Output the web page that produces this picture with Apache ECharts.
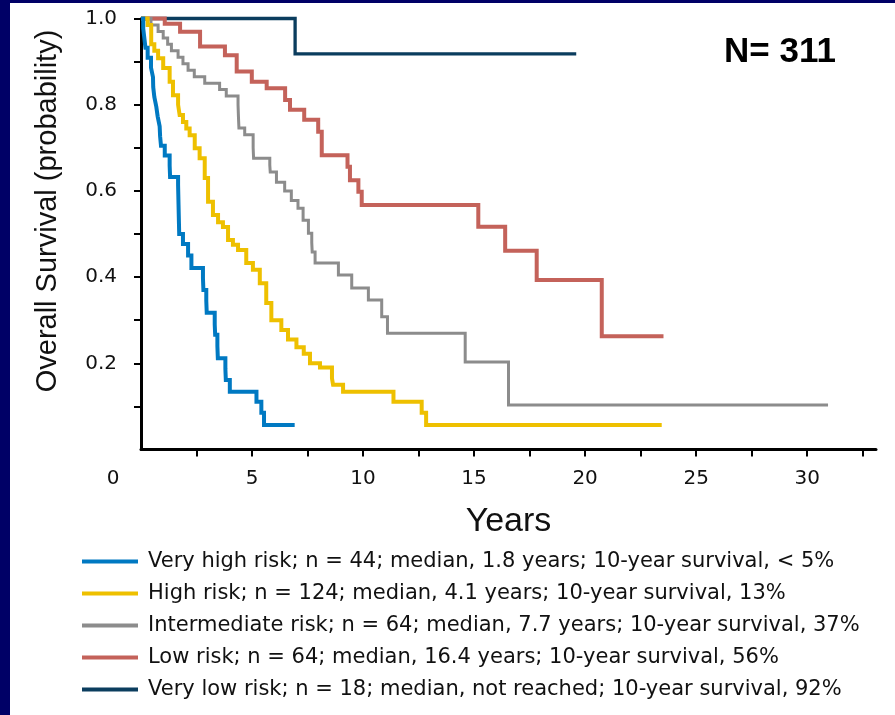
<!DOCTYPE html>
<html>
<head>
<meta charset="utf-8">
<script src="https://cdn.jsdelivr.net/npm/echarts@6/dist/echarts.min.js"></script>
<style>
html,body{margin:0;padding:0;background:#000066;}
#chart{width:895px;height:715px;}
</style>
</head>
<body>
<div id="chart"></div>
<script>
// ---- Data (years, survival probability after each step) ----
const seriesNames = [
  'Very high risk; n = 44; median, 1.8 years; 10-year survival, < 5%',
  'High risk; n = 124; median, 4.1 years; 10-year survival, 13%',
  'Intermediate risk; n = 64; median, 7.7 years; 10-year survival, 37%',
  'Low risk; n = 64; median, 16.4 years; 10-year survival, 56%',
  'Very low risk; n = 18; median, not reached; 10-year survival, 92%'
];
const seriesColors = ['#0079C2', '#EEC000', '#8C8C8C', '#C4625A', '#0B3D5E'];

const veryHighTimes = [0,0.1,0.15,0.2,0.3,0.45,0.54,0.55,0.6,0.69,0.75,0.84,0.86,0.9,1.07,1.29,1.31,1.67,1.68,1.69,1.7,1.71,1.72,1.89,2.12,2.27,2.79,2.81,2.94,2.96,3.32,3.34,3.44,3.46,3.8,3.82,4.0,5.2,5.42,5.54,6.92];
const veryHighSurv  = [1,0.977,0.955,0.932,0.909,0.886,0.864,0.841,0.818,0.795,0.773,0.75,0.727,0.705,0.682,0.659,0.632,0.614,0.591,0.568,0.545,0.523,0.50,0.477,0.45,0.421,0.398,0.37,0.345,0.317,0.29,0.266,0.24,0.212,0.187,0.161,0.134,0.111,0.085,0.057,0.057];

const highTimes = [0,0.3,0.46,0.6,0.77,1.0,1.29,1.44,1.67,1.74,1.89,2.04,2.19,2.42,2.64,2.87,3.02,3.24,3.47,3.69,3.92,4.14,4.37,4.74,5.04,5.35,5.64,5.87,6.32,6.62,7.0,7.33,7.61,8.06,8.6,8.65,9.1,11.37,12.64,12.84,23.45];
const highSurv  = [1,0.985,0.94,0.925,0.908,0.885,0.853,0.822,0.80,0.776,0.76,0.745,0.729,0.699,0.676,0.63,0.575,0.544,0.527,0.516,0.486,0.475,0.463,0.433,0.417,0.386,0.34,0.30,0.277,0.255,0.237,0.222,0.20,0.19,0.165,0.15,0.134,0.111,0.085,0.057,0.057];

const intermediateTimes = [0,0.45,0.77,1.0,1.2,1.37,1.67,1.89,2.12,2.4,2.87,3.54,3.84,4.37,4.39,4.41,4.67,5.05,5.07,5.8,5.82,6.1,6.47,6.77,7.07,7.3,7.54,7.69,7.71,7.84,8.89,9.49,10.24,10.84,11.1,14.6,16.55,30.94];
const intermediateSurv  = [1,0.985,0.97,0.955,0.94,0.925,0.91,0.895,0.88,0.865,0.85,0.835,0.82,0.80,0.77,0.746,0.73,0.70,0.676,0.66,0.644,0.62,0.60,0.578,0.56,0.532,0.502,0.48,0.458,0.433,0.405,0.375,0.347,0.308,0.27,0.203,0.103,0.103];

const lowTimes = [0,1.07,1.76,2.66,3.78,4.31,4.99,5.66,6.49,6.71,7.35,7.98,8.14,9.3,9.41,9.79,9.94,15.19,16.4,17.82,20.75,23.53];
const lowSurv  = [1,0.988,0.969,0.935,0.915,0.877,0.853,0.838,0.811,0.788,0.765,0.737,0.683,0.656,0.625,0.598,0.567,0.517,0.461,0.393,0.263,0.263];

const veryLowTimes = [0,6.94,19.6];
const veryLowSurv  = [1,0.918,0.918];

const xTickValues  = [2.5,5,7.5,10,12.5,15,17.5,20,22.5,25,27.5,30,32.5];
const xLabelValues = [5,10,15,20,25,30];
const yTickValues  = [0.1,0.2,0.3,0.4,0.5,0.6,0.7,0.8,0.9,1.0];
const yLabelValues = [0.2,0.4,0.6,0.8,1.0];

function pairs(t, s){ return t.map((v,i)=>[v, s[i]]); }

const curves = [
  {name: seriesNames[4], data: pairs(veryLowTimes, veryLowSurv), color: seriesColors[4], width: 3.3},
  {name: seriesNames[3], data: pairs(lowTimes, lowSurv), color: seriesColors[3], width: 4},
  {name: seriesNames[2], data: pairs(intermediateTimes, intermediateSurv), color: seriesColors[2], width: 3},
  {name: seriesNames[1], data: pairs(highTimes, highSurv), color: seriesColors[1], width: 4},
  {name: seriesNames[0], data: pairs(veryHighTimes, veryHighSurv), color: seriesColors[0], width: 4}
];

const chart = echarts.init(document.getElementById('chart'), null, {renderer: 'canvas'});
const labelFont = 'DejaVu Sans';
chart.setOption({
  animation: false,
  backgroundColor: '#000066',
  graphic: [
    {type: 'rect', z: -10, shape: {x: 10, y: 3, width: 885, height: 712}, style: {fill: '#ffffff'}},
    {type: 'text', x: 48, y: 211, rotation: Math.PI/2,
     style: {text: 'Overall Survival (probability)', fill: '#111', font: '29px "Liberation Sans"', align: 'center', verticalAlign: 'middle'}},
    {type: 'text', x: 113, y: 479,
     style: {text: '0', fill: '#111', font: '20px "DejaVu Sans"', align: 'center', verticalAlign: 'middle'}},
    {type: 'text', x: 780, y: 52,
     style: {text: 'N= 311', fill: '#000', font: 'bold 35px "Liberation Sans"', align: 'center', verticalAlign: 'middle'}}
  ],
  grid: {left: 141, top: 18.5, width: 735, height: 431, containLabel: false},
  legend: {
    orient: 'vertical', left: 82, top: 551, padding: 0, itemWidth: 56, itemHeight: 4, itemGap: 11,
    icon: 'rect', selectedMode: false,
    data: seriesNames,
    textStyle: {fontFamily: labelFont, fontSize: 21, color: '#111', padding: [0,0,0,5]}
  },
  xAxis: {
    type: 'value', min: 0, max: 33.1,
    name: 'Years', nameLocation: 'middle', nameGap: 55,
    nameTextStyle: {fontFamily: 'Liberation Sans', fontSize: 34, color: '#111'},
    axisLine: {show: true, lineStyle: {color: '#000', width: 3}},
    axisTick: {show: true, length: 7, lineStyle: {color: '#000', width: 2}, customValues: xTickValues},
    axisLabel: {show: true, margin: 19, fontFamily: labelFont, fontSize: 20, color: '#111', customValues: xLabelValues},
    splitLine: {show: false}
  },
  yAxis: {
    type: 'value', min: 0, max: 1, interval: 0.1,
    axisLine: {show: true, lineStyle: {color: '#000', width: 3}},
    axisTick: {show: true, length: 7, lineStyle: {color: '#000', width: 2}, customValues: yTickValues},
    axisLabel: {show: true, margin: 24, fontFamily: labelFont, fontSize: 20, color: '#111', customValues: yLabelValues,
      formatter: v => v.toFixed(1)},
    splitLine: {show: false}
  },
  series: curves.map(c => ({
    type: 'line', name: c.name, step: 'end', data: c.data, showSymbol: false, symbol: 'none',
    lineStyle: {color: c.color, width: c.width, join: 'miter'}, itemStyle: {color: c.color},
    emphasis: {disabled: true}, clip: false
  }))
});
</script>
</body>
</html>
